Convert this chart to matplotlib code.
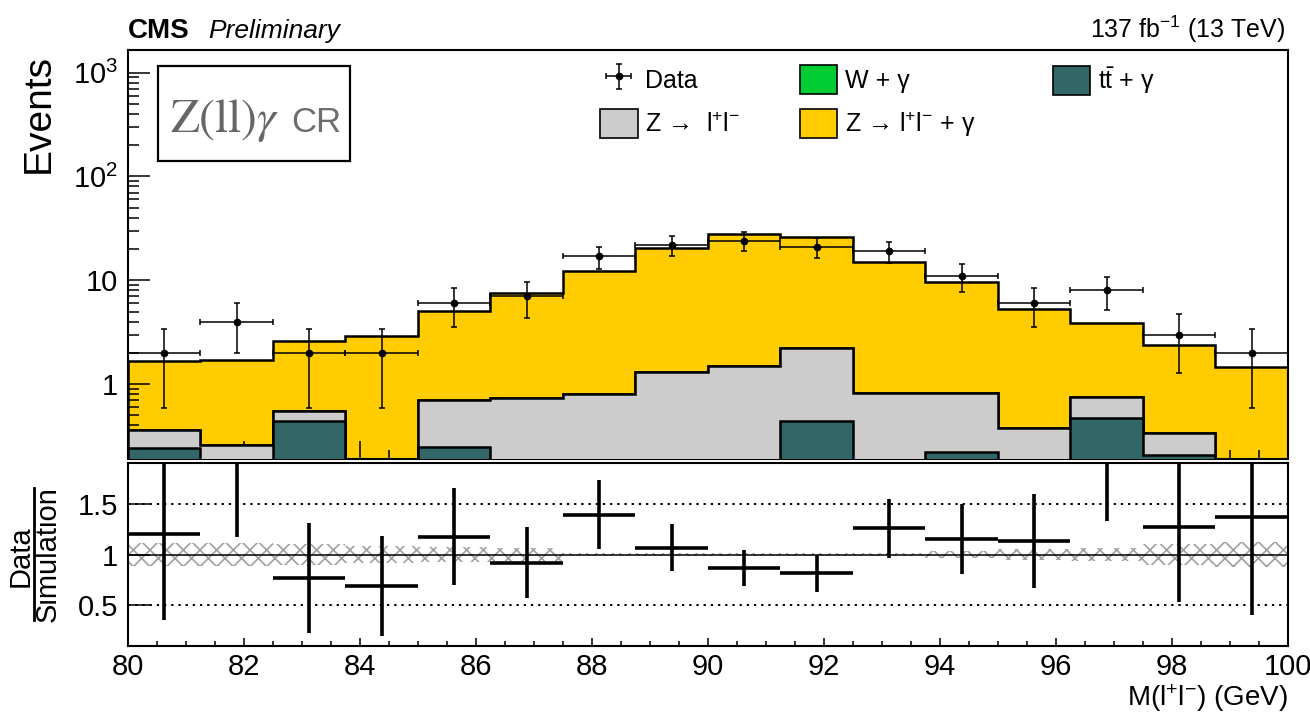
import numpy as np
import matplotlib
matplotlib.use("Agg")
import matplotlib.pyplot as plt
from matplotlib import font_manager
from matplotlib.lines import Line2D
from matplotlib.patches import Patch, Rectangle
from matplotlib.ticker import FixedLocator, FixedFormatter, LogLocator, MultipleLocator, NullFormatter

# binning in M(l+l-), GeV
bin_edges = [80.0, 81.25, 82.5, 83.75, 85.0, 86.25, 87.5, 88.75, 90.0,
             91.25, 92.5, 93.75, 95.0, 96.25, 97.5, 98.75, 100.0]

# observed events
data = [2, 4, 2, 2, 6, 7, 17, 22, 24, 21, 19, 11, 6, 8, 3, 2]

# simulation, per process (stacked bottom to top)
ttgamma = [0.24, 0.0, 0.44, 0.0, 0.25, 0.0, 0.0, 0.0,
           0.0, 0.44, 0.0, 0.22, 0.0, 0.47, 0.21, 0.0]
zll = [0.12, 0.26, 0.11, 0.0, 0.46, 0.73, 0.80, 1.30,
       1.50, 1.78, 0.82, 0.61, 0.38, 0.28, 0.13, 0.0]
wgamma = [0.0, 0.0, 0.0, 0.0, 0.0, 0.0, 0.0, 0.0,
          0.0, 0.0, 0.0, 0.0, 0.0, 0.0, 0.0, 0.0]
zllgamma = [1.30, 1.45, 2.05, 2.90, 4.39, 6.87, 11.4, 19.3,
            26.1, 23.6, 14.3, 8.73, 4.91, 3.13, 2.02, 1.46]

# relative MC stat. uncertainty (hatched band in the ratio)
mc_rel_unc = [0.115, 0.115, 0.10, 0.08, 0.07, 0.06, 0.015, 0.012,
              0.01, 0.01, 0.012, 0.03, 0.05, 0.06, 0.10, 0.12]

xtick_values = [80, 82, 84, 86, 88, 90, 92, 94, 96, 98, 100]
ytick_values = [1, 10, 100, 1000]
ytick_labels = ["1", "10", "$10^{2}$", "$10^{3}$"]
ratio_ticks = [0.5, 1.0, 1.5]
ratio_tick_labels = ["0.5", "1", "1.5"]

c_zg = "#ffcc00"
c_zll = "#cccccc"
c_wg = "#00cc33"
c_tt = "#336666"


def font_ok(name):
    try:
        font_manager.findfont(name, fallback_to_default=False)
        return True
    except Exception:
        return False


narrow = "Liberation Sans Narrow" if font_ok("Liberation Sans Narrow") else None

plt.rcParams["font.family"] = ["Liberation Sans", "DejaVu Sans"]
plt.rcParams["mathtext.fontset"] = "custom"
plt.rcParams["mathtext.rm"] = "Liberation Sans"
plt.rcParams["mathtext.it"] = "Liberation Sans:italic"
plt.rcParams["mathtext.bf"] = "Liberation Sans:bold"
plt.rcParams["hatch.linewidth"] = 1.2

edges = np.array(bin_edges)
centers = 0.5 * (edges[:-1] + edges[1:])
halfw = 0.5 * np.diff(edges)
d = np.array(data, dtype=float)
c1 = np.array(ttgamma)
c2 = c1 + np.array(zll)
c3 = c2 + np.array(wgamma)
mc = c3 + np.array(zllgamma)

fig = plt.figure(figsize=(13.1, 7.12), dpi=100)
ax = fig.add_axes([0.0977, 0.3553, 0.8855, 0.5745])
ax2 = fig.add_axes([0.0977, 0.0927, 0.8855, 0.2570])

# ---- upper panel
base = 1e-3
ax.stairs(mc, edges, baseline=base, fill=True, facecolor=c_zg, edgecolor="black", lw=1.8, zorder=1)
ax.stairs(c3, edges, baseline=base, fill=True, facecolor=c_wg, edgecolor="black", lw=1.8, zorder=2)
ax.stairs(c2, edges, baseline=base, fill=True, facecolor=c_zll, edgecolor="black", lw=1.8, zorder=3)
ax.stairs(c1, edges, baseline=base, fill=True, facecolor=c_tt, edgecolor="black", lw=1.8, zorder=4)

eb = ax.errorbar(centers, d, yerr=np.sqrt(d), xerr=halfw, fmt="o", color="black",
                 ms=4.5, lw=1.1, capsize=2.5, capthick=1.1, zorder=10, label="Data")

ax.set_yscale("log")
ax.set_xlim(80, 100)
ax.set_ylim(0.19, 1650)
ax.yaxis.set_major_locator(FixedLocator(ytick_values))
ax.yaxis.set_major_formatter(FixedFormatter(ytick_labels))
ax.yaxis.set_minor_locator(LogLocator(base=10, subs=np.arange(2, 10)))
ax.yaxis.set_minor_formatter(NullFormatter())
ax.xaxis.set_major_locator(FixedLocator(xtick_values))
ax.xaxis.set_minor_locator(MultipleLocator(0.5))
ax.tick_params(which="both", direction="in", top=False, right=False, width=1.1,
               labelbottom=False, labelsize=21, pad=7)
ax.tick_params(axis="y", which="major", length=16)
ax.tick_params(axis="y", which="minor", length=8)
ax.tick_params(axis="x", which="major", length=13)
ax.tick_params(axis="x", which="minor", length=6.5)
for s in ax.spines.values():
    s.set_linewidth(1.5)

ax.set_ylabel("Events", fontsize=28, loc="top")
ax.yaxis.set_label_coords(-0.061, 0.99)

# legend, three columns
h_zll = Patch(facecolor=c_zll, edgecolor="black", lw=1.2)
h_wg = Patch(facecolor=c_wg, edgecolor="black", lw=1.2)
h_zg = Patch(facecolor=c_zg, edgecolor="black", lw=1.2)
h_tt = Patch(facecolor=c_tt, edgecolor="black", lw=1.2)
leg_kw = dict(loc="upper left", frameon=False, fontsize=18, handlelength=1.5,
              handleheight=1.4, handletextpad=0.3, labelspacing=0.62,
              borderpad=0, borderaxespad=0)
leg1 = ax.legend([eb, h_zll], ["Data", "Z \u2192  l$^{+}$l$^{-}$"],
                 bbox_to_anchor=(0.407, 0.963), **leg_kw)
ax.add_artist(leg1)
leg2 = ax.legend([h_wg, h_zg], ["W + \u03b3", "Z \u2192 l$^{+}$l$^{-}$ + \u03b3"],
                 bbox_to_anchor=(0.579, 0.963), **leg_kw)
ax.add_artist(leg2)
ax.legend([h_tt], ["t$\\bar{\\mathrm{t}}$ + \u03b3"],
          bbox_to_anchor=(0.797, 0.963), **leg_kw)

# region label box
ax.add_patch(Rectangle((0.0259, 0.7286), 0.1655, 0.2323, transform=ax.transAxes,
                       fill=False, edgecolor="black", lw=1.6, zorder=20))
ax.text(0.036, 0.80, r"$\mathrm{Z(ll)}\gamma$", transform=ax.transAxes,
        fontsize=34, color="#666666", math_fontfamily="stix", va="baseline", zorder=21)
if narrow:
    ax.text(0.1397, 0.80, "CR", transform=ax.transAxes, family=narrow,
            fontsize=31, color="#6e6e6e", va="baseline", zorder=21)
else:
    ax.text(0.1405, 0.80, "CR", transform=ax.transAxes,
            fontsize=25, color="#6e6e6e", va="baseline", zorder=21)

ax.text(0.0, 1.03, "CMS", transform=ax.transAxes, fontsize=20, weight="bold", va="baseline")
ax.text(0.069, 1.03, "Preliminary", transform=ax.transAxes, fontsize=19, style="italic", va="baseline")
ax.text(0.9974, 1.03, "137 fb$^{-1}$ (13 TeV)", transform=ax.transAxes, fontsize=18,
        ha="right", va="baseline")

# ---- ratio panel
ratio = d / mc
ratio_err = np.sqrt(d) / mc
ax2.bar(centers, 2 * np.array(mc_rel_unc), bottom=1 - np.array(mc_rel_unc), width=2 * halfw,
        fill=False, hatch="xx", edgecolor="#a0a0a0", linewidth=0, zorder=1)
ax2.axhline(1.0, color="black", lw=1.1, zorder=2)
ax2.axhline(0.5, color="black", lw=1.4, ls=(0, (1.2, 2.5)), zorder=2)
ax2.axhline(1.5, color="black", lw=1.4, ls=(0, (1.2, 2.5)), zorder=2)
ax2.errorbar(centers, ratio, yerr=ratio_err, xerr=halfw, fmt="none", ecolor="black",
             elinewidth=2.6, capsize=0, zorder=5)

ax2.set_xlim(80, 100)
ax2.set_ylim(0.1, 1.9)
ax2.yaxis.set_major_locator(FixedLocator(ratio_ticks))
ax2.yaxis.set_major_formatter(FixedFormatter(ratio_tick_labels))
ax2.xaxis.set_major_locator(FixedLocator(xtick_values))
ax2.xaxis.set_minor_locator(MultipleLocator(0.5))
ax2.tick_params(which="both", direction="in", top=False, right=False, width=1.1,
                labelsize=21, pad=5)
ax2.tick_params(axis="y", which="major", length=16, pad=7)
ax2.tick_params(axis="x", which="major", length=6)
ax2.tick_params(axis="x", which="minor", length=3.5)
for s in ax2.spines.values():
    s.set_linewidth(1.5)

ax2.set_xlabel("M(l$^{+}$l$^{-}$) (GeV)", fontsize=20, loc="right")
ax2.xaxis.set_label_coords(1.0, -0.2)

# Data / Simulation label
fig.text(21 / 1310, 1 - 556 / 712, "Data", rotation=90, ha="center", va="center", fontsize=21)
fig.text(48 / 1310, 1 - 554 / 712, "Simulation", rotation=90, ha="center", va="center", fontsize=21)
fig.add_artist(Line2D([34 / 1310, 34 / 1310], [1 - 488 / 712, 1 - 620 / 712],
                      transform=fig.transFigure, color="black", lw=2))

fig.savefig("out.png", dpi=100)
